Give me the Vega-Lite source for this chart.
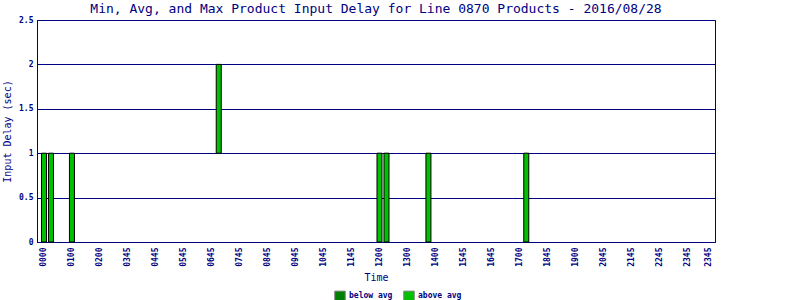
{
  "$schema": "https://vega.github.io/schema/vega-lite/v6.json",
  "width": 678,
  "height": 222,
  "autosize": {"type": "none"},
  "padding": {"left": 37, "top": 20, "right": 85, "bottom": 58},
  "background": "white",
  "title": {
    "text": "Min, Avg, and Max Product Input Delay for Line 0870 Products - 2016/08/28",
    "anchor": "middle",
    "font": "DejaVu Sans Mono",
    "fontSize": 13,
    "fontWeight": "normal",
    "color": "#000080",
    "offset": 0
  },
  "config": {
    "view": {"stroke": "#000080", "strokeWidth": 1},
    "axis": {
      "domainColor": "#000080",
      "gridColor": "#000080",
      "gridOpacity": 1,
      "labelColor": "#000080",
      "titleColor": "#000080",
      "labelFont": "DejaVu Sans Mono",
      "titleFont": "DejaVu Sans Mono",
      "titleFontWeight": "normal",
      "ticks": false
    }
  },
  "data": {
    "values": [
      {"slot": 0, "min": 0, "max": 1, "status": "above avg"},
      {"slot": 1, "min": 0, "max": 1, "status": "above avg"},
      {"slot": 4, "min": 0, "max": 1, "status": "above avg"},
      {"slot": 25, "min": 1, "max": 2, "status": "above avg"},
      {"slot": 48, "min": 0, "max": 1, "status": "above avg"},
      {"slot": 49, "min": 0, "max": 1, "status": "above avg"},
      {"slot": 55, "min": 0, "max": 1, "status": "above avg"},
      {"slot": 69, "min": 0, "max": 1, "status": "above avg"}
    ]
  },
  "mark": {"type": "bar", "size": 5, "stroke": "black", "strokeWidth": 1},
  "encoding": {
    "x": {
      "field": "slot",
      "type": "quantitative",
      "scale": {"domain": [-1, 96], "nice": false, "zero": false, "padding": 0},
      "axis": {
        "title": "Time",
        "titleFontSize": 10,
        "titlePadding": 6,
        "grid": false,
        "values": [0, 4, 8, 12, 16, 20, 24, 28, 32, 36, 40, 44, 48, 52, 56, 60, 64, 68, 72, 76, 80, 84, 88, 92, 95],
        "labelExpr": "datum.value == 95 ? '2345' : ['0000','0100','0200','0345','0445','0545','0645','0745','0845','0945','1045','1145','1200','1300','1400','1545','1645','1700','1845','1900','2045','2145','2245','2345'][datum.value / 4]",
        "labelAngle": 270,
        "labelAlign": "right",
        "labelBaseline": "middle",
        "labelFontSize": 8,
        "labelFontWeight": "bold",
        "labelPadding": 5,
        "labelOverlap": false,
        "labelFlush": false
      }
    },
    "y": {
      "field": "min",
      "type": "quantitative",
      "scale": {"domain": [0, 2.5], "nice": false},
      "axis": {
        "title": "Input Delay (sec)",
        "titleFontSize": 10,
        "titlePadding": 6,
        "values": [0, 0.5, 1, 1.5, 2, 2.5],
        "format": "~g",
        "grid": true,
        "labelFontSize": 8,
        "labelFontWeight": "bold",
        "labelPadding": 4,
        "labelFlush": false
      }
    },
    "y2": {"field": "max"},
    "color": {
      "field": "status",
      "type": "nominal",
      "scale": {"domain": ["below avg", "above avg"], "range": ["#008000", "#00c000"]},
      "legend": {
        "title": null,
        "orient": "none",
        "direction": "horizontal",
        "legendX": 297,
        "legendY": 270,
        "symbolType": "square",
        "symbolSize": 110,
        "symbolStrokeColor": "#808080",
        "symbolStrokeWidth": 1,
        "symbolOpacity": 1,
        "labelFont": "DejaVu Sans Mono",
        "labelFontSize": 8,
        "labelFontWeight": "bold",
        "labelColor": "#000080",
        "labelOffset": 3,
        "columnPadding": 8
      }
    }
  }
}
